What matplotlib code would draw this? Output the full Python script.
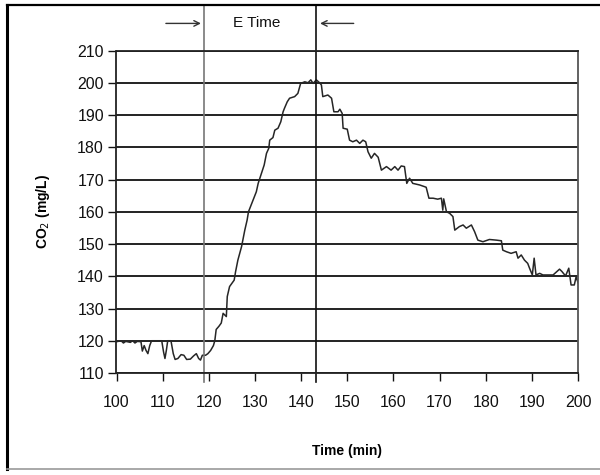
import matplotlib

matplotlib.use("Agg")
import matplotlib.pyplot as plt
from matplotlib.lines import Line2D

plt.rcParams["font.family"] = ["Liberation Sans", "DejaVu Sans"]

# CO2 trace (time in min, CO2 in mg/L)
time_min = [
    100.0, 101.0, 101.5, 102.0, 103.0, 103.5, 104.0, 104.5, 105.3, 105.6,
    106.0, 106.4, 106.8, 107.2, 107.6, 109.8, 110.2, 110.5, 110.8, 111.1,
    111.8, 112.3, 112.7, 113.3, 114.0, 114.6, 115.2, 116.0, 116.7, 117.3,
    117.8, 118.2, 118.6, 119.3, 119.8, 120.4, 121.0, 121.3, 121.6, 122.2,
    122.7, 123.1, 123.8, 124.0, 124.5, 125.5, 125.8, 126.3, 127.1, 127.8,
    128.3, 128.6, 129.6, 130.3, 130.7, 131.4, 132.0, 132.5, 133.0, 133.2,
    133.9, 134.3, 135.0, 135.6, 136.1, 136.4, 137.0, 137.5, 138.6, 139.3,
    139.9, 140.8, 141.5, 142.1, 142.6, 143.3, 144.0, 144.4, 144.7, 145.8,
    146.6, 147.1, 148.0, 148.4, 148.9, 149.1, 150.0, 150.5, 151.2, 152.0,
    152.7, 153.4, 154.0, 154.5, 155.2, 155.9, 156.7, 157.4, 158.5, 159.5,
    160.3, 161.0, 161.7, 162.4, 162.9, 163.5, 164.2, 165.7, 167.1, 167.7,
    168.6, 169.6, 170.4, 170.7, 170.9, 171.5, 172.2, 172.9, 173.3, 174.3,
    175.1, 175.8, 176.9, 177.6, 178.3, 179.4, 180.8, 182.3, 183.4, 183.7,
    184.5, 185.5, 186.6, 187.0, 187.7, 188.4, 189.1, 189.5, 190.1, 190.5,
    190.9, 191.7, 192.4, 194.6, 196.0, 196.5, 197.3, 198.0, 198.5, 199.2,
    199.6, 200.0,
]
co2 = [
    119.7, 120.0, 119.3, 119.8, 119.5, 120.0, 119.3, 119.8, 119.7, 116.8,
    118.5, 117.0, 116.0, 118.5, 120.0, 120.0, 116.5, 114.5, 117.0, 120.0,
    120.0, 116.0, 114.2, 114.5, 115.7, 115.5, 114.2, 114.3, 115.3, 116.0,
    114.5, 114.0, 115.5, 115.5, 116.0, 117.0, 118.5, 120.0, 123.5, 124.5,
    125.5, 128.5, 127.5, 133.7, 136.8, 138.8, 141.4, 145.0, 149.2, 154.3,
    157.4, 160.0, 163.6, 166.2, 168.8, 171.9, 174.5, 178.1, 179.7, 182.2,
    183.0, 185.3, 185.9, 187.9, 191.0, 192.1, 194.1, 195.2, 195.7, 196.7,
    199.8, 200.3, 200.0, 200.9, 199.8, 200.9, 200.0, 199.3, 195.7, 196.2,
    195.2, 191.0, 191.0, 191.8, 190.5, 185.9, 185.6, 182.2, 181.7, 182.2,
    181.2, 182.2, 181.7, 178.6, 176.6, 178.1, 176.9, 172.9, 174.0, 172.9,
    174.0, 172.9, 174.2, 174.0, 168.8, 170.4, 168.8, 168.3, 167.6, 164.2,
    164.2, 163.9, 164.2, 160.5, 164.0, 160.0, 159.5, 158.5, 154.3, 155.4,
    155.9, 154.9, 155.9, 153.8, 151.2, 150.7, 151.4, 151.2, 151.0, 148.1,
    147.6, 147.1, 147.6, 145.6, 146.6, 145.0, 144.0, 142.5, 140.4, 145.6,
    140.4, 140.9, 140.4, 140.4, 142.2, 141.5, 140.1, 142.5, 137.3, 137.3,
    139.9, 138.0,
]

x_ticks = list(range(100, 201, 10))
y_ticks = list(range(110, 211, 10))
e_start, e_end = 118.9, 143.2

W, H = 600, 475
fig = plt.figure(figsize=(W / 100, H / 100), dpi=100)
ax = fig.add_axes([116.5 / W, 1 - 373 / H, 461.5 / W, 322.5 / H])

ax.set_xlim(100, 200)
ax.set_ylim(110, 210)
ax.set_xticks(x_ticks)
ax.set_yticks(y_ticks)
ax.tick_params(axis="both", direction="out", length=6, width=1.0,
               labelsize=11.5, colors="#111111")
ax.tick_params(axis="x", pad=10)
ax.tick_params(axis="y", pad=3)
ax.yaxis.grid(True, color="#111111", linewidth=1.3)
ax.set_axisbelow(True)
for side, spine in ax.spines.items():
    spine.set_color("#222222" if side != "right" else "#555555")
    spine.set_linewidth(1.3)

ax.plot(time_min, co2, color="#262626", linewidth=1.1)

# E Time markers
ax.axvline(e_start, ymin=-0.028, ymax=1.141, color="#777777", linewidth=1.2,
           clip_on=False)
ax.axvline(e_end, ymin=-0.028, ymax=1.141, color="#111111", linewidth=1.2,
           clip_on=False)
ax.annotate("", xy=(e_start, 1.084), xytext=(110.1, 1.084),
            xycoords=("data", "axes fraction"), annotation_clip=False,
            arrowprops=dict(arrowstyle="->", color="#333333", lw=1.0))
ax.annotate("", xy=(e_end + 0.3, 1.084), xytext=(152.0, 1.084),
            xycoords=("data", "axes fraction"), annotation_clip=False,
            arrowprops=dict(arrowstyle="->", color="#333333", lw=1.0))
ax.text(130.3, 1.084, "E Time", transform=ax.get_xaxis_transform(),
        ha="center", va="center", fontsize=11, color="#111111")

ax.set_xlabel("Time (min)", fontsize=10, fontweight="bold", labelpad=24)
ax.set_ylabel("CO$_2$ (mg/L)", fontsize=10, fontweight="bold", labelpad=18)

# outer frame around the picture
fig.add_artist(Line2D([7 / W, 7 / W], [1 - 5 / H, 1 - 469 / H],
                      transform=fig.transFigure, color="black", linewidth=2.2))
fig.add_artist(Line2D([7 / W, 1.0], [1 - 5 / H, 1 - 5 / H],
                      transform=fig.transFigure, color="black", linewidth=1.6))
fig.add_artist(Line2D([7 / W, 1.0], [1 - 469 / H, 1 - 469 / H],
                      transform=fig.transFigure, color="#999999", linewidth=1.2))

fig.savefig("out.png", dpi=100)
